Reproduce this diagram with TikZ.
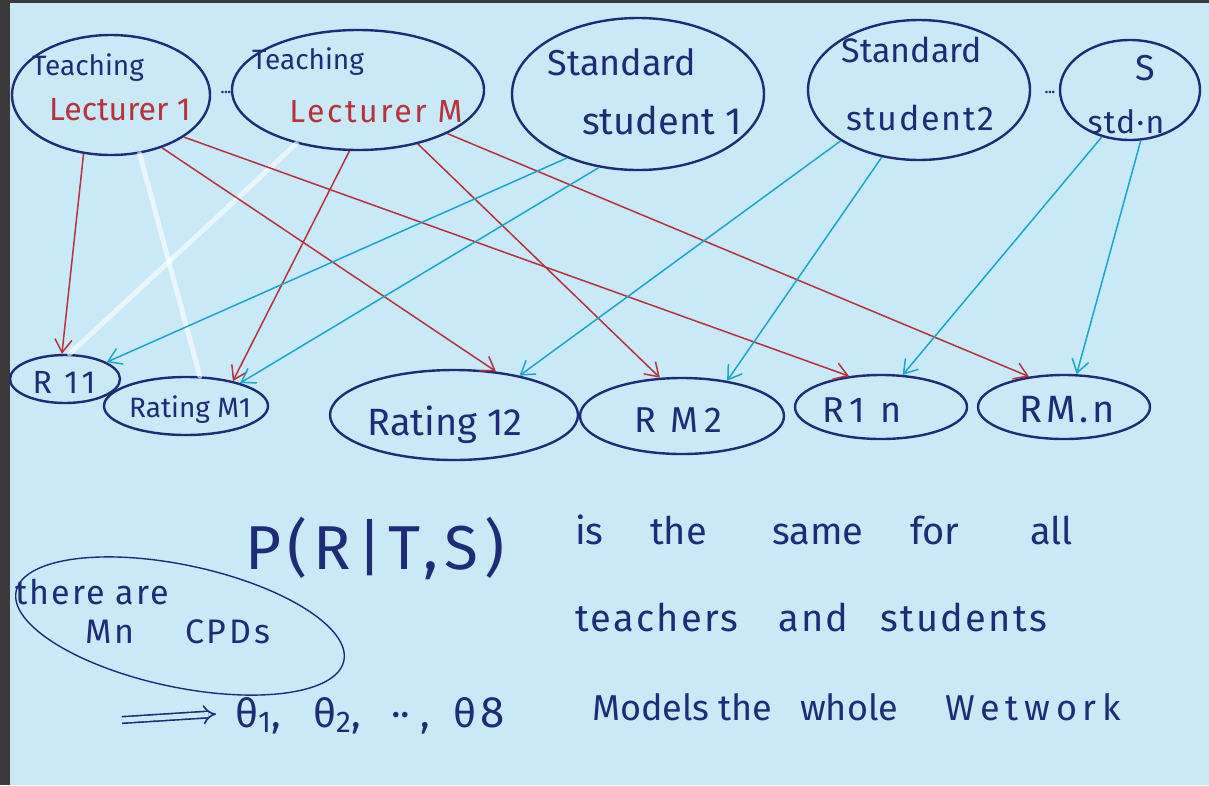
\documentclass[tikz,border=0pt]{standalone}
\usepackage{fontspec}
\setmainfont{Fira Sans}
\usetikzlibrary{shapes.geometric,arrows.meta}

\definecolor{paper}{RGB}{201,233,246}
\definecolor{frame}{RGB}{58,58,60}
\definecolor{navy}{RGB}{30,44,120}
\definecolor{redink}{RGB}{184,50,60}
\definecolor{cyanink}{RGB}{26,166,201}

\newcommand{\pen}[1]{\fontsize{#1}{#1}\selectfont}
\newcommand{\spread}[1]{\addfontfeature{LetterSpace=#1}}
\newcommand{\idx}[1]{\raisebox{-5pt}{\pen{30}#1}}

\tikzset{
  blob/.style={ellipse, draw=navy, line width=2.4pt, inner sep=0pt},
  hand/.style={text=navy, inner sep=0pt, font=\pen{26}},
  redtext/.style={hand, text=redink},
  teacheredge/.style={draw=redink, line width=1.5pt,
    -{Straight Barb[length=13pt,width=17pt,line width=1.5pt]}},
  studentedge/.style={draw=cyanink, line width=1.5pt,
    -{Straight Barb[length=13pt,width=17pt,line width=1.5pt]}},
  erased/.style={draw=white, line width=5pt, opacity=0.6, line cap=round},
  dots/.style={text=navy, inner sep=0pt, font=\pen{14}\bfseries},
}

\begin{document}
\begin{tikzpicture}[x=1pt,y=-1pt]
  % paper and dark frame
  \useasboundingbox (0,0) rectangle (1209,785);
  \fill[paper] (0,0) rectangle (1209,785);
  \fill[frame] (0,0) rectangle (10,785);
  \fill[frame] (0,0) rectangle (1209,3);

  % parent variables: teachers and students
  \node[blob, minimum width=198pt, minimum height=120pt] (T1) at (111,95) {};
  \node[blob, minimum width=252pt, minimum height=120pt] (TM) at (358,90) {};
  \node[blob, minimum width=252pt, minimum height=152pt] (S1) at (638,94) {};
  \node[blob, minimum width=222pt, minimum height=140pt] (S2) at (919,90) {};
  \node[blob, minimum width=140pt, minimum height=100pt] (Sn) at (1130,90) {};

  \node[hand, font=\pen{28}] (T1a) at (88,68) {Teaching};
  \node[redtext, font=\pen{32}] (T1b) at (120,110) {Lecturer 1};
  \node[hand, font=\pen{28}] (TMa) at (308,62) {Teaching};
  \node[redtext, font=\pen{32}\spread{8}] (TMb) at (376,112) {Lecturer M};
  \node[hand, font=\pen{36}] (S1a) at (622,62) {Standard};
  \node[hand, font=\pen{38}] (S1b) at (662,120) {student 1};
  \node[hand, font=\pen{34}] (S2a) at (912,50) {Standard};
  \node[hand, font=\pen{34}\spread{5}] (S2b) at (920,118) {student2};
  \node[hand, font=\pen{36}] (Sna) at (1145,68) {S};
  \node[hand, font=\pen{32}\spread{4}] (Snb) at (1126,122) {std·n};

  \node[dots] (d1) at (226,92) {...};
  \node[dots] (d2) at (1050,92) {...};

  % rating variables
  \node[blob, minimum width=110pt, minimum height=48pt] (R11) at (65,379) {};
  \node[blob, minimum width=164pt, minimum height=58pt] (RM1) at (186,406) {};
  \node[blob, minimum width=248pt, minimum height=90pt] (R12) at (454,415) {};
  \node[blob, minimum width=204pt, minimum height=76pt] (RM2) at (682,416) {};
  \node[blob, minimum width=172pt, minimum height=64pt] (R1n) at (881,407) {};
  \node[blob, minimum width=172pt, minimum height=64pt] (RMn) at (1064,407) {};

  \node[hand, font=\pen{32}\spread{12}] (R11t) at (64,382) {R 11};
  \node[hand, font=\pen{28}] (RM1t) at (190,410) {Rating M1};
  \node[hand, font=\pen{38}] (R12t) at (445,425) {Rating 12};
  \node[hand, font=\pen{36}\spread{15}] (RM2t) at (678,420) {R M2};
  \node[hand, font=\pen{36}\spread{15}] (R1nt) at (862,410) {R1 n};
  \node[hand, font=\pen{38}\spread{10}] (RMnt) at (1067,410) {RM.n};

  % crossed-out strokes
  \draw[erased] (T1.296) -- (RM1.65);
  \draw[erased] (TM.221) -- (R11.80);

  % teacher -> rating
  \draw[teacheredge] (T1.245) -- (R11.97);
  \draw[teacheredge] (T1.314) -- (R12.46);
  \draw[teacheredge] (T1.330) -- (R1n.136);
  \draw[teacheredge] (TM.262) -- (RM1.28);
  \draw[teacheredge] (TM.318) -- (RM2.120);
  \draw[teacheredge] (TM.334) -- (RMn.139);

  % student -> rating
  \draw[studentedge] (S1.222) -- (R11.22);
  \draw[studentedge] (S1.242) -- (RM1.23);
  \draw[studentedge] (S2.213) -- (R12.31);
  \draw[studentedge] (S2.241) -- (RM2.38);
  \draw[studentedge] (Sn.239) -- (R1n.56);
  \draw[studentedge] (Sn.282) -- (RMn.69);

  % notes
  \node[hand, font=\pen{62}\spread{10}] (cpd) at (375,548) {P(R|T,S)};
  \node[hand, font=\pen{38}, anchor=west] (n1) at (575,530)
    {\makebox[75pt][l]{is}\makebox[122pt][l]{the}\makebox[138pt][l]{same}\makebox[120pt][l]{for}all};
  \node[hand, font=\pen{38}\spread{6}, anchor=west] (n2) at (575,617)
    {\makebox[203pt][l]{teachers}\makebox[102pt][l]{and}students};
  \node[hand, font=\pen{36}, anchor=west] (n3) at (592,707)
    {\makebox[126pt][l]{Models}\makebox[82pt][l]{the}\makebox[145pt][l]{whole}{\spread{16}Wetwork}};

  \node[hand, font=\pen{34}\spread{6}, anchor=west] (c1) at (15,592) {there are};
  \node[hand, font=\pen{34}\spread{8}, anchor=west] (c2) at (85,632)
    {\makebox[100pt][l]{Mn}CPDs};
  \node[ellipse, draw=navy, line width=1.4pt, minimum width=335pt,
        minimum height=122pt, rotate=-12] (ring) at (180,626) {};

  \coordinate (ia) at (122,720);
  \coordinate (ib) at (216,714);
  \draw[navy, line width=1.6pt, double=paper, double distance=5pt,
        -{Implies[length=8pt]}] (ia) -- (ib);
  \node[hand, font=\pen{40}, anchor=west] (th) at (235,716)
    {\makebox[78pt][l]{θ\idx{1},}\makebox[78pt][l]{θ\idx{2},}\makebox[62pt][l]{·· ,}θ\hspace{4pt}{\pen{44}8}};
\end{tikzpicture}
\end{document}
